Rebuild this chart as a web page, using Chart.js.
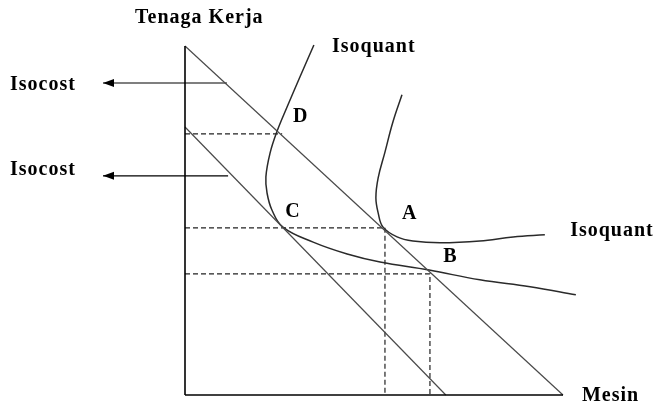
<!DOCTYPE html>
<html lang="id">
  <head>
    <meta charset="UTF-8" />
    <title>Isoquant dan Isocost</title>
    <script src="https://cdn.jsdelivr.net/npm/chart.js"></script>
    <style>
      html, body { margin: 0; padding: 0; background: #fff; overflow: hidden; }
      .wrap { width: 654px; height: 404px; position: relative; }
    </style>
  </head>
  <body>
    <div class="wrap">
      <canvas id="chart"></canvas>
    </div>
    <script>
      // x = Mesin, y = Tenaga Kerja (arbitrary units, 0..10 on both axes)
      const axisY = [{ x: 0, y: 0 }, { x: 0, y: 10 }];
      const axisX = [{ x: 0, y: 0 }, { x: 10, y: 0 }];

      const isocostOuter = [{ x: 0, y: 10 }, { x: 10, y: 0 }];
      const isocostInner = [{ x: 0, y: 7.68 }, { x: 6.9, y: 0 }];

      // left isoquant, through D, C and B
      const isoquant1 = [
        { x: 3.41, y: 10.03 }, { x: 3.04, y: 9.11 }, { x: 2.7, y: 8.25 },
        { x: 2.43, y: 7.54 }, { x: 2.25, y: 6.93 }, { x: 2.14, y: 6.25 },
        { x: 2.17, y: 5.79 }, { x: 2.3, y: 5.3 }, { x: 2.59, y: 4.81 },
        { x: 3.39, y: 4.38 }, { x: 4.29, y: 4.04 }, { x: 5.16, y: 3.81 },
        { x: 6.46, y: 3.58 }, { x: 7.8, y: 3.3 }, { x: 9.13, y: 3.1 },
        { x: 10.34, y: 2.87 }
      ];
      // right isoquant, through A
      const isoquant2 = [
        { x: 5.74, y: 8.6 }, { x: 5.5, y: 7.82 }, { x: 5.29, y: 6.96 },
        { x: 5.11, y: 6.22 }, { x: 5.05, y: 5.65 }, { x: 5.11, y: 5.22 },
        { x: 5.24, y: 4.81 }, { x: 5.61, y: 4.53 }, { x: 6.03, y: 4.41 },
        { x: 6.75, y: 4.36 }, { x: 7.8, y: 4.41 }, { x: 8.68, y: 4.53 },
        { x: 9.52, y: 4.59 }
      ];

      const dashD = [{ x: 0, y: 7.48 }, { x: 2.57, y: 7.48 }];
      const dashA = [{ x: 0, y: 4.79 }, { x: 5.29, y: 4.79 }, { x: 5.29, y: 0 }];
      const dashB = [{ x: 0, y: 3.47 }, { x: 6.48, y: 3.47 }, { x: 6.48, y: 0 }];

      const arrow1 = [{ x: 1.11, y: 8.94 }, { x: -2.17, y: 8.94 }];
      const arrow2 = [{ x: 1.14, y: 6.28 }, { x: -2.17, y: 6.28 }];

      const labelText = ["Tenaga Kerja", "Mesin", "Isoquant", "Isoquant", "Isocost", "Isocost", "D", "C", "A", "B"];
      const labelX = [-1.32, 10.5, 3.89, 10.19, -4.63, -4.63, 2.86, 2.65, 5.74, 6.83];
      const labelY = [10.66, -0.17, 9.83, 4.56, 8.74, 6.3, 7.82, 5.1, 5.04, 3.81];

      function line(data, color, width, dash) {
        return {
          data: data,
          showLine: true,
          borderColor: color,
          borderWidth: width,
          borderDash: dash || [],
          pointRadius: 0,
          tension: 0,
          clip: false
        };
      }

      const iso1 = line(isoquant1, "#2a2a2a", 1.5);
      iso1.tension = 0.4;
      const iso2 = line(isoquant2, "#2a2a2a", 1.5);
      iso2.tension = 0.4;

      const arrowSets = [arrow1, arrow2];

      const extras = {
        id: "extras",
        afterDatasetsDraw(chart) {
          const ctx = chart.ctx;
          const sx = chart.scales.x;
          const sy = chart.scales.y;
          ctx.save();
          ctx.fillStyle = "#000";
          // arrow heads at the left end of each arrow
          arrowSets.forEach(a => {
            const p = a[a.length - 1];
            const px = sx.getPixelForValue(p.x);
            const py = sy.getPixelForValue(p.y);
            ctx.beginPath();
            ctx.moveTo(px, py);
            ctx.lineTo(px + 11, py - 4);
            ctx.lineTo(px + 11, py + 4);
            ctx.closePath();
            ctx.fill();
          });
          ctx.font = "bold 20px 'Liberation Serif', 'Times New Roman', serif";
          if ("letterSpacing" in ctx) ctx.letterSpacing = "1px";
          ctx.textAlign = "left";
          ctx.textBaseline = "alphabetic";
          labelText.forEach((t, i) => {
            ctx.fillText(t, sx.getPixelForValue(labelX[i]), sy.getPixelForValue(labelY[i]));
          });
          ctx.restore();
        }
      };

      new Chart(document.getElementById("chart"), {
        type: "scatter",
        data: {
          datasets: [
            line(axisY, "#000", 1.6),
            line(axisX, "#000", 1.6),
            line(isocostOuter, "#4a4a4a", 1.2),
            line(isocostInner, "#4a4a4a", 1.2),
            iso1,
            iso2,
            line(dashD, "#222", 1.2, [5, 3]),
            line(dashA, "#222", 1.2, [5, 3]),
            line(dashB, "#222", 1.2, [5, 3]),
            line(arrow1, "#000", 1.2),
            line(arrow2, "#000", 1.2)
          ]
        },
        options: {
          responsive: true,
          maintainAspectRatio: false,
          animation: false,
          layout: { padding: { left: 185, right: 91, top: 46, bottom: 9 } },
          scales: {
            x: { type: "linear", min: 0, max: 10, display: false },
            y: { type: "linear", min: 0, max: 10, display: false }
          },
          plugins: {
            legend: { display: false },
            tooltip: { enabled: false }
          }
        },
        plugins: [extras]
      });
    </script>
  </body>
</html>
